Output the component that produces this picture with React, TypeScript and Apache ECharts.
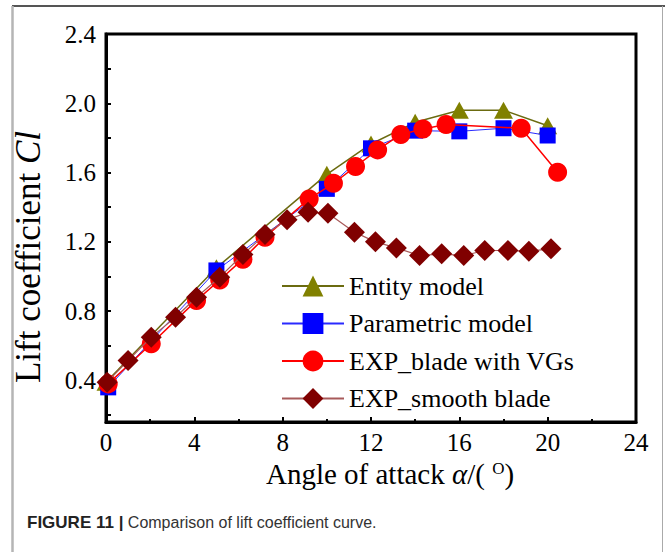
import React, { useEffect, useRef } from "react";
import * as echarts from "echarts";

const xEntity = [0, 5, 10, 12, 14, 16, 18, 20];
const yEntity = [0.39, 1.05, 1.59, 1.765, 1.89, 1.96, 1.96, 1.87];

const xParam = [0.1, 5, 10, 12, 14, 16, 18, 20];
const yParam = [0.36, 1.035, 1.506, 1.74, 1.842, 1.838, 1.856, 1.814];

const xVGs = [0.1, 2.05, 4.1, 5.15, 6.2, 7.2, 9.2, 10.3, 11.3, 12.3, 13.35, 14.35, 15.4, 18.8, 20.45];
const yVGs = [0.38, 0.612, 0.862, 0.98, 1.1, 1.227, 1.448, 1.538, 1.635, 1.731, 1.82, 1.852, 1.877, 1.856, 1.602];

const xSmooth = [0.05, 1, 2.05, 3.15, 4.1, 5.15, 6.2, 7.2, 8.2, 9.15, 10.05, 11.25, 12.2, 13.15, 14.2, 15.2, 16.2, 17.15, 18.2, 19.15, 20.15];
const ySmooth = [0.39, 0.515, 0.65, 0.765, 0.88, 0.996, 1.127, 1.242, 1.327, 1.371, 1.365, 1.256, 1.2, 1.165, 1.121, 1.131, 1.121, 1.15, 1.15, 1.146, 1.16];

const yLabelValues = [0.4, 0.8, 1.2, 1.6, 2.0, 2.4];
const yTickValues = [0.2, 0.4, 0.6, 0.8, 1.0, 1.2, 1.4, 1.6, 1.8, 2.0, 2.2, 2.4];

const seriesNames = ["Entity model", "Parametric model", "EXP_blade with VGs", "EXP_smooth blade"];

const zip = (xs: number[], ys: number[]) => xs.map((x, i) => [x, ys[i]]);

const SERIF = "'Liberation Serif', 'Times New Roman', serif";
const NARROW = "'Liberation Sans Narrow', 'Liberation Sans', Arial, sans-serif";

export default function App() {
  const ref = useRef<HTMLDivElement>(null);
  useEffect(() => {
    if (!ref.current) return;
    const chart = echarts.init(ref.current, null, { renderer: "svg" });
    chart.setOption({
      animation: false,
      backgroundColor: "#fff",
      grid: {
        left: 106,
        top: 34,
        right: 29,
        bottom: 130,
        show: true,
        borderColor: "#000",
        borderWidth: 3,
        backgroundColor: "transparent",
      },
      xAxis: {
        type: "value",
        min: 0,
        max: 24,
        interval: 4,
        name: "Angle of attack {a|α}/( {s|O})",
        nameLocation: "middle",
        nameGap: 31,
        nameTextStyle: {
          fontFamily: SERIF,
          fontSize: 29,
          color: "#000",
          lineHeight: 29,
          padding: [0, 0, 0, 38],
          rich: {
            a: { fontFamily: SERIF, fontSize: 29, fontStyle: "italic", color: "#000", lineHeight: 29 },
            s: { fontFamily: SERIF, fontSize: 17, color: "#000", verticalAlign: "top", lineHeight: 17, padding: [0, 0, 12, 0] },
          },
        },
        axisLine: { show: true, lineStyle: { color: "#000", width: 3 } },
        axisTick: { show: true, inside: true, length: 5, lineStyle: { color: "#000", width: 2 } },
        minorTick: { show: true, splitNumber: 2, length: 3, lineStyle: { color: "#000", width: 2 } },
        axisLabel: { fontFamily: SERIF, fontSize: 25, color: "#000", margin: 8 },
        splitLine: { show: false },
      },
      yAxis: {
        type: "value",
        min: 0.16,
        max: 2.4,
        name: "Lift coefficient {i|Cl}",
        nameLocation: "middle",
        nameGap: 60,
        nameTextStyle: {
          fontFamily: SERIF,
          fontSize: 35,
          color: "#000",
          lineHeight: 35,
          padding: [0, 58, 0, 0],
          rich: {
            i: { fontFamily: SERIF, fontSize: 35, fontStyle: "italic", color: "#000", lineHeight: 35 },
          },
        },
        axisLine: { show: true, lineStyle: { color: "#000", width: 3 } },
        axisTick: {
          show: true,
          inside: true,
          length: 5,
          customValues: yTickValues,
          lineStyle: { color: "#000", width: 2 },
        },
        axisLabel: {
          fontFamily: SERIF,
          fontSize: 25,
          color: "#000",
          margin: 10,
          customValues: yLabelValues,
          formatter: (v: number) => v.toFixed(1),
        },
        splitLine: { show: false },
      },
      legend: {
        orient: "vertical",
        left: 281,
        top: 272,
        padding: 0,
        itemWidth: 62,
        itemHeight: 26,
        itemGap: 9.5,
        data: seriesNames,
        textStyle: { fontFamily: SERIF, fontSize: 26, color: "#000", lineHeight: 28 },
      },
      series: [
        {
          name: seriesNames[0],
          type: "line",
          data: zip(xEntity, yEntity),
          symbol: "triangle",
          symbolSize: [19, 17],
          itemStyle: { color: "#808000" },
          lineStyle: { color: "#6b6b10", width: 1.5 },
          z: 2,
        },
        {
          name: seriesNames[1],
          type: "line",
          data: zip(xParam, yParam),
          symbol: "rect",
          symbolSize: 16,
          itemStyle: { color: "#0000ff" },
          lineStyle: { color: "#2a2aff", width: 1 },
          z: 3,
        },
        {
          name: seriesNames[2],
          type: "line",
          data: zip(xVGs, yVGs),
          symbol: "circle",
          symbolSize: 19,
          itemStyle: { color: "#ff0000" },
          lineStyle: { color: "#ff0000", width: 1.5 },
          z: 4,
        },
        {
          name: seriesNames[3],
          type: "line",
          data: zip(xSmooth, ySmooth),
          symbol: "diamond",
          symbolSize: 21,
          itemStyle: { color: "#800000" },
          lineStyle: { color: "#a85a5a", width: 1.2 },
          z: 5,
        },
      ],
      graphic: [
        { type: "line", shape: { x1: 12, y1: 6, x2: 665, y2: 6 }, style: { stroke: "#555", lineWidth: 2 } },
        { type: "line", shape: { x1: 12.5, y1: 6, x2: 12.5, y2: 552 }, style: { stroke: "#b5b5b5", lineWidth: 2.5 } },
        { type: "line", shape: { x1: 662.5, y1: 6, x2: 662.5, y2: 552 }, style: { stroke: "#aaa", lineWidth: 1 } },
        {
          type: "text",
          left: 27,
          top: 514,
          style: {
            text: "{b|FIGURE 11 |} Comparison of lift coefficient curve.",
            font: "16px " + NARROW,
            fill: "#333",
            rich: {
              b: {
                fontFamily: NARROW,
                fontSize: 17,
                fontWeight: "bold",
                fill: "#222",
              },
            },
          },
        },
      ],
    });
    return () => chart.dispose();
  }, []);
  return (
    <div
      ref={ref}
      style={{ position: "fixed", left: 0, top: 0, width: 665, height: 552, background: "#fff" }}
    />
  );
}
